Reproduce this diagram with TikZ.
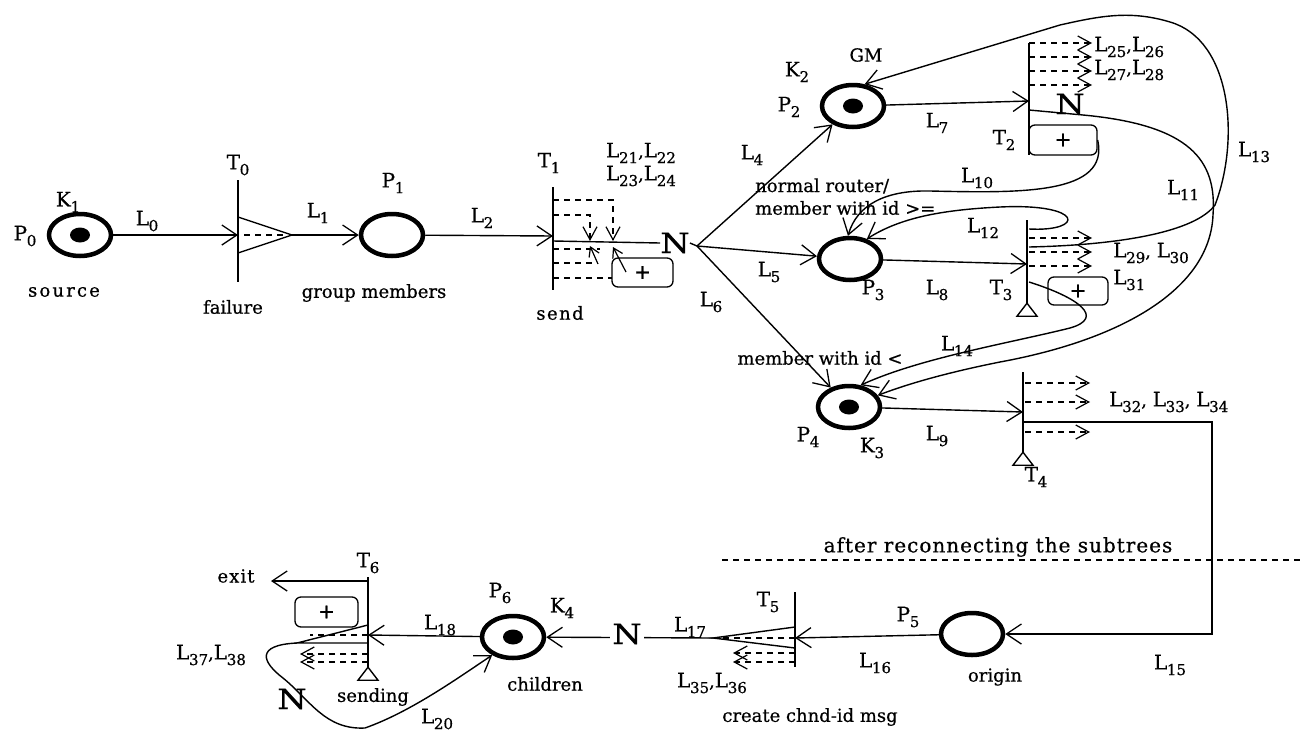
\documentclass[tikz,border=0pt]{standalone}
\usepackage{fontspec}
\setmainfont{DejaVu Serif}[FakeBold=0.6]
\usetikzlibrary{arrows.meta,calc,shapes.geometric}
\newcommand\ix[2]{{\fontsize{20}{22}\selectfont #1\kern-0.3pt\raisebox{-0.55ex}{\fontsize{15}{15}\selectfont #2}}}
\begin{document}
\begin{tikzpicture}[x=1pt,y=-1pt,
  every node/.style={font=\fontsize{18}{20}\selectfont, inner sep=1pt},
  place/.style={ellipse,draw,line width=4.5pt,minimum width=62pt,minimum height=42pt,inner sep=0pt},
  tok/.style={ellipse,fill,minimum width=20pt,minimum height=15pt,inner sep=0pt},
  tbar/.style={rectangle,fill,minimum width=2.4pt,inner sep=0pt},
  pbox/.style={draw,line width=1.3pt,rounded corners=6pt,inner sep=0pt,font=\fontsize{20}{20}\selectfont},
  bigN/.style={font=\fontsize{28}{28}\selectfont, inner sep=0pt},
  arc/.style={line width=1.4pt,-{Straight Barb[length=15pt,width=20pt,line width=1.3pt]}},
  sarc/.style={line width=1.2pt,dash pattern=on 6pt off 5pt,-{Straight Barb[length=13pt,width=14pt,line width=1.2pt]}},
  tarc/.style={line width=1.2pt,-{Straight Barb[length=9pt,width=11pt,line width=1.2pt]}},
  ln/.style={line width=1.4pt},
  dl/.style={line width=1.2pt,dash pattern=on 6pt off 5pt},
  tri/.style={line width=1.4pt},
]
\fill[white] (0,0) rectangle (1304,734);
\useasboundingbox (0,0) rectangle (1304,734);

% ---------- P0 / T0 / P1 ----------
\node[place] (p0) at (80,235) {};
\node[tok] (k0) at (p0) {};
\node (lp0) at (25,236) {\ix{P}{0}};
\node (lk1) at (68,202) {\ix{K}{1}};
\node (lsource) at (64,292) {\addfontfeature{LetterSpace=12}source};

\node[tbar,minimum height=102pt] (t0) at (238,231) {};
\coordinate (t0in) at (238,235);
\coordinate (t0tip) at (292,235);
\draw[ln] (238,217) -- (t0tip) -- (238,253);
\draw[dl] (244,235) -- (286,235);
\draw[arc] (p0) -- (t0in);
\node (ll0) at (147,221) {\ix{L}{0}};
\node (lt0) at (238,165) {\ix{T}{0}};
\node (lfail) at (233,307) {failure};

\node[place] (p1) at (392,235) {};
\draw[arc] (t0tip) -- (p1);
\node (ll1) at (318,213) {\ix{L}{1}};
\node (lp1) at (393,183) {\ix{P}{1}};
\node (lgm) at (374,293) {group members};

% ---------- T1 ----------
\node[tbar,minimum height=103pt] (t1) at (553,238.5) {};
\coordinate (t1in) at (553,236);
\draw[arc] (p1) -- (t1in);
\node (ll2) at (482,218) {\ix{L}{2}};
\node (lt1) at (549,163) {\ix{T}{1}};
\node (lsend) at (560,313) {\addfontfeature{LetterSpace=8}send};
\node (ll21) at (641,153) {\ix{L}{21},\ix{L}{22}};
\node (ll23) at (641,176) {\ix{L}{23},\ix{L}{24}};
\draw[sarc] (553,200) -- (613,200) -- (613,241);
\draw[sarc] (553,215) -- (590,215) -- (590,241);
\draw[dl] (553,249) -- (600,249);
\draw[dl] (553,263) -- (598,263);
\draw[dl] (553,278) -- (612,278);
\draw[tarc] (598,264) -- (590,246);
\draw[tarc] (626,272) -- (613,247);
\node[pbox,minimum width=61pt,minimum height=29pt] (b1) at (642.5,272.5) {+};
\node[bigN] (n1) at (675,243) {\scalebox{1.2}[1]{N}};
\coordinate (br) at (697,246);
\draw[ln] (553,241) -- (n1.west);
\draw[ln] (n1.east) -- (br);

% ---------- branches ----------
\node[place] (p2) at (853,106) {};
\node[tok] (k2) at (p2) {};
\node[place] (p3) at (850,259) {};
\node[place] (p4) at (849,407) {};
\node[tok] (k3) at (p4) {};
\draw[arc] (br) -- (p2);
\draw[arc] (br) -- (p3);
\draw[arc] (br) -- (p4);
\node (ll4) at (752,155) {\ix{L}{4}};
\node (ll5) at (769,272) {\ix{L}{5}};
\node (ll6) at (711,302) {\ix{L}{6}};
\node[anchor=west] (lnr) at (754,186) {normal router/};
\node[anchor=west] (lmw) at (754,208) {member with id >=};

% ---------- P2 / T2 ----------
\node (lgm2) at (866,55) {GM};
\node (lk2) at (797,72) {\ix{K}{2}};
\node (lp2) at (789,107) {\ix{P}{2}};
\node[tbar,minimum height=112pt] (t2) at (1029,99) {};
\coordinate (t2in) at (1029,101);
\draw[arc] (p2) -- (t2in);
\node (ll7) at (937,123) {\ix{L}{7}};
\node (lt2) at (1004,140) {\ix{T}{2}};
\foreach \yy in {43,57,71,85} \draw[sarc] (1029,\yy) -- (1092,\yy);
\node[anchor=west] (l25) at (1093,47) {\ix{L}{25},\ix{L}{26}};
\node[anchor=west] (l27) at (1093,70) {\ix{L}{27},\ix{L}{28}};
\node[pbox,minimum width=68pt,minimum height=30pt] (b2) at (1063,140) {+};
\node[bigN] (n2) at (1070,104) {\scalebox{1.2}[1]{N}};
\coordinate (t2out) at (1029,110);

% ---------- P3 / T3 ----------
\node[tbar,minimum height=83pt] (t3) at (1027,261.5) {};
\coordinate (t3in) at (1027,264);
\coordinate (t3a) at (1029,229);
\coordinate (t3c) at (1029,247);
\coordinate (t3b) at (1029,282);
\draw[arc] (p3) -- (t3in);
\node (lp3) at (873,290) {\ix{P}{3}};
\node (ll8) at (937,290) {\ix{L}{8}};
\node (lt3) at (1001,290) {\ix{T}{3}};
\foreach \yy in {238,252,266} \draw[sarc] (1029,\yy) -- (1092,\yy);
\node[anchor=west] (l29) at (1112,253) {\ix{L}{29}, \ix{L}{30}};
\node[anchor=west] (l31) at (1112,280) {\ix{L}{31}};
\node[pbox,minimum width=60pt,minimum height=28pt] (b3) at (1078,291) {+};
\draw[tri] (t3.south) -- ++(-10,13) -- ++(20,0) -- cycle;

% curves
\draw[arc] (t2out) -- (1083,115) .. controls (1190,125) and (1217,160) .. (1213,215)
   .. controls (1210,290) and (1120,340) .. (1000,362) .. controls (950,372) and (910,383) .. (p4.22);
\draw[arc] (t3c) .. controls (1120,245) and (1195,232) .. (1215,205)
   .. controls (1240,140) and (1232,40) .. (1170,22) .. controls (1130,10) and (1100,16) .. (1060,25) -- (p2.62);
\draw[arc] (b2.east) .. controls (1110,195) and (1020,193) .. (930,191)
   .. controls (885,190) and (857,205) .. (p3.95);
\draw[arc] (t3a) .. controls (1085,232) and (1085,203) .. (1000,207)
   .. controls (940,210) and (900,218) .. (p3.50);
\draw[arc] (t3b) .. controls (1080,298) and (1105,318) .. (1070,328)
   .. controls (1010,343) and (920,358) .. (p4.62);
\node (ll10) at (977,178) {\ix{L}{10}};
\node (ll11) at (1183,190) {\ix{L}{11}};
\node (ll12) at (983,228) {\ix{L}{12}};
\node (ll13) at (1254,152) {\ix{L}{13}};
\node (ll14) at (957,346) {\ix{L}{14}};

% ---------- P4 / T4 ----------
\node (lmwl) at (820,358) {member with id <};
\node (lp4) at (808,437) {\ix{P}{4}};
\node (lk3) at (872,448) {\ix{K}{3}};
\node[tbar,minimum height=80pt] (t4) at (1023,412) {};
\coordinate (t4in) at (1023,412);
\draw[arc] (p4) -- (t4in);
\node (ll9) at (937,436) {\ix{L}{9}};
\node (lt4) at (1036,477) {\ix{T}{4}};
\foreach \yy in {383,402,432} \draw[sarc] (1025,\yy) -- (1090,\yy);
\node[anchor=west] (l32) at (1108,402) {\ix{L}{32}, \ix{L}{33}, \ix{L}{34}};
\draw[tri] (t4.south) -- ++(-10,13) -- ++(20,0) -- cycle;

% ---------- separator ----------
\coordinate (sepL) at (722,560);
\coordinate (sepR) at (1304,560);
\draw[dl] (sepL) -- (sepR);
\node (lafter) at (998,547) {\fontsize{20}{22}\selectfont\addfontfeature{LetterSpace=5}after reconnecting the subtrees};

% ---------- P5 / T5 ----------
\node[place] (p5) at (972,634) {};
\coordinate (t4out) at (1023,422);
\coordinate (c15a) at (1212,422);
\coordinate (c15b) at (1212,634);
\draw[arc] (t4out) -- (c15a) -- (c15b) -- (p5);
\node (ll15) at (1170,665) {\ix{L}{15}};
\node (lp5) at (908,617) {\ix{P}{5}};
\node (lorigin) at (995,677) {origin};
\node[tbar,minimum height=75pt] (t5) at (795,629.5) {};
\coordinate (t5in) at (795,638);
\draw[arc] (p5) -- (t5in);
\node (ll16) at (875,663) {\ix{L}{16}};
\node (lt5) at (768,602) {\ix{T}{5}};
\coordinate (t5tip) at (713,638);
\draw[ln] (795,627) -- (t5tip) -- (795,648);
\draw[dl] (795,638) -- (720,638);
\draw[sarc] (795,653) -- (733,653);
\draw[sarc] (795,662) -- (733,662);
\node (l35) at (712,683) {\ix{L}{35},\ix{L}{36}};
\node (lcreate) at (810,717) {create chnd-id msg};

% ---------- P6 / T6 ----------
\node[place] (p6) at (513,637) {};
\node[tok] (k4) at (p6) {};
\draw[arc] (t5tip) -- (p6);
\node[bigN,fill=white,inner xsep=2pt] (n3) at (627,634) {\scalebox{1.2}[1]{N}};
\node (ll17) at (690,627) {\ix{L}{17}};
\node (lp6) at (500,593) {\ix{P}{6}};
\node (lk4) at (562,608) {\ix{K}{4}};
\node (lchildren) at (545,684) {children};
\node[tbar,minimum height=90pt] (t6) at (368,622) {};
\coordinate (t6in) at (368,635);
\draw[arc] (p6) -- (t6in);
\node (ll18) at (440,625) {\ix{L}{18}};
\node (lt6) at (368,563) {\ix{T}{6}};
\node (lsending) at (373,697) {sending};
\coordinate (t6top) at (368,581);
\coordinate (exitpt) at (271,581);
\draw[arc] (t6top) -- (exitpt);
\node (lexit) at (236,576) {\addfontfeature{LetterSpace=6}exit};
\node[pbox,minimum width=63pt,minimum height=30pt] (b6) at (326.5,612) {+};
\coordinate (t6tip) at (297,643);
\draw[ln] (368,625) -- (t6tip) -- (368,643);
\draw[dl] (368,635) -- (310,635);
\draw[sarc] (368,654) -- (300,654);
\draw[sarc] (368,662) -- (300,662);
\draw[tri] (t6.south) -- ++(-10,13) -- ++(20,0) -- cycle;
\draw[arc] (t6tip) .. controls (255,645) and (262,662) .. (283,678)
   .. controls (310,700) and (325,730) .. (365,728) .. controls (410,712) and (455,680) .. (p6.221);
\node[bigN] (n4) at (292,699) {\scalebox{1.2}[1]{N}};
\node (ll20) at (437,719) {\ix{L}{20}};
\node (l37) at (211,655) {\ix{L}{37},\ix{L}{38}};
\end{tikzpicture}
\end{document}
